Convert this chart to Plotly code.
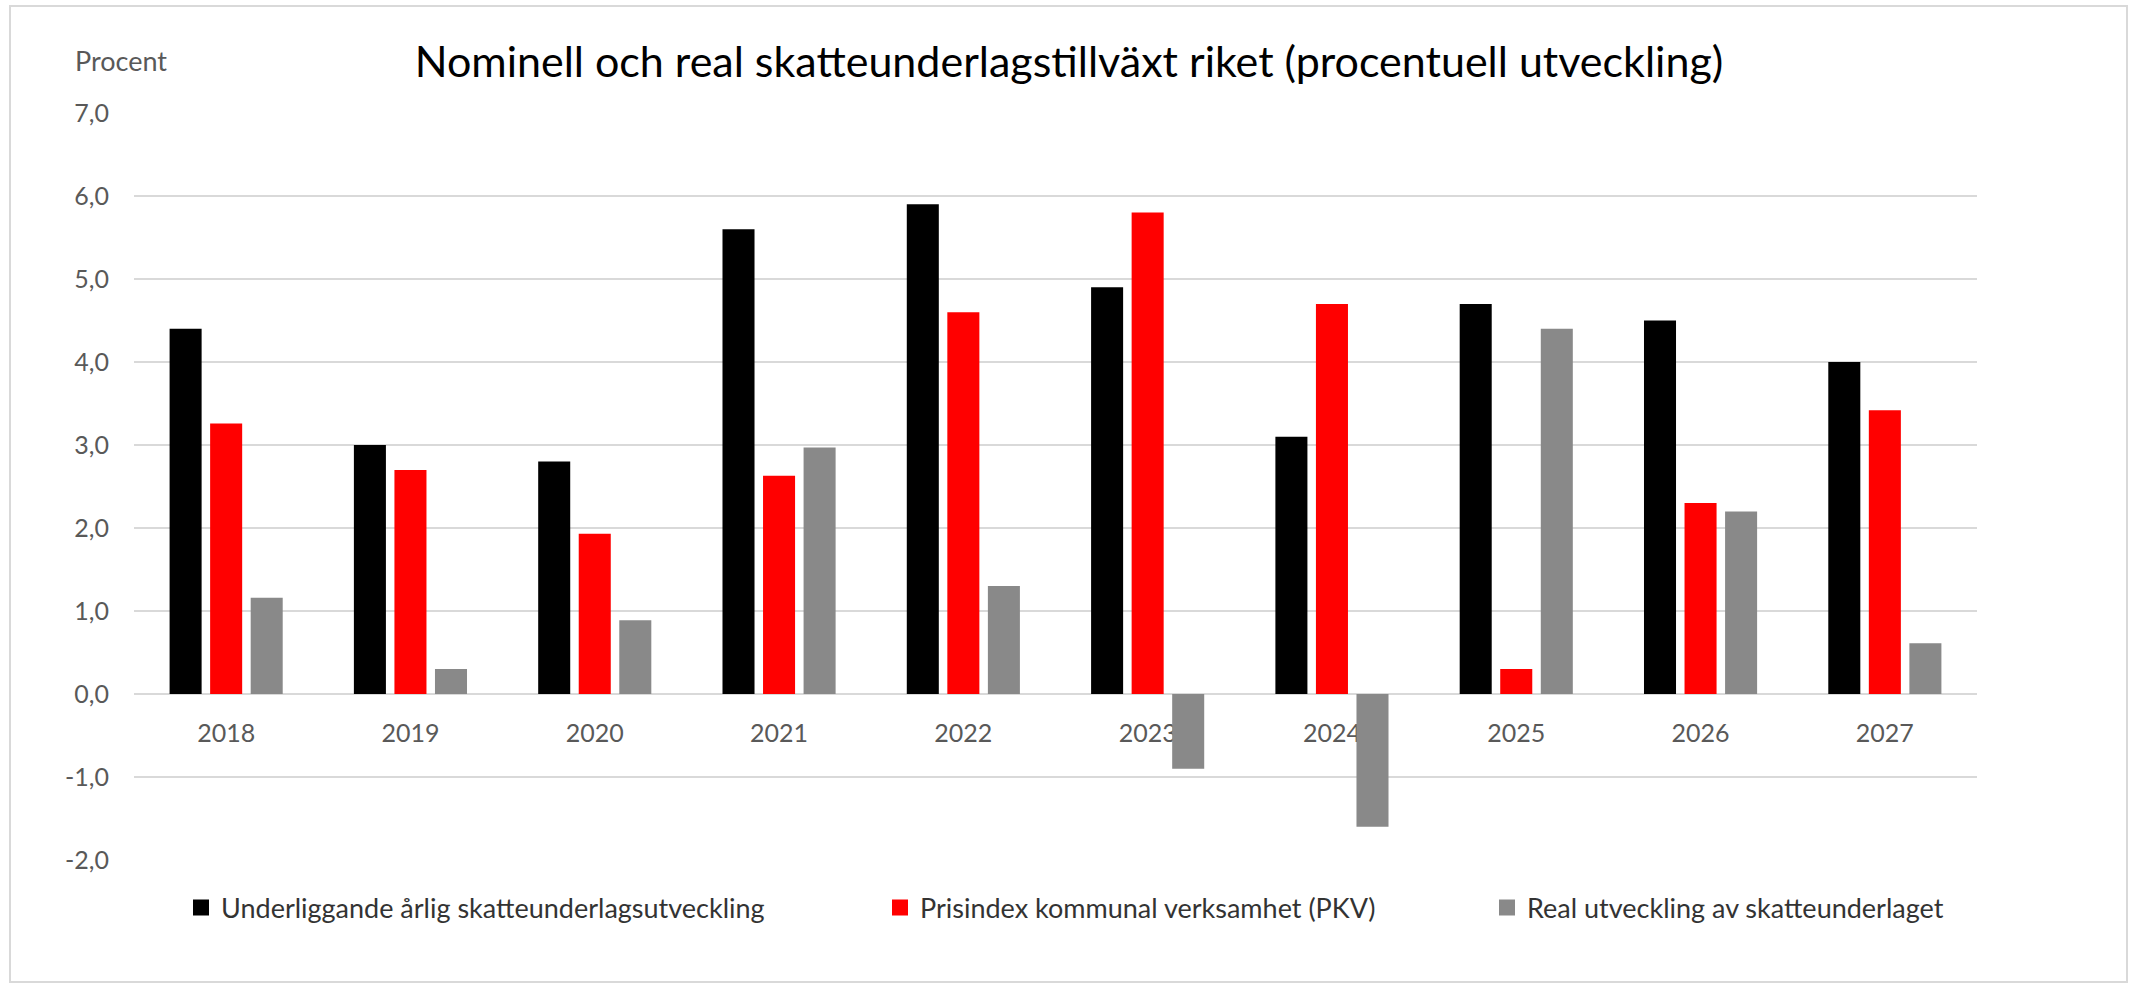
import plotly.graph_objects as go

# ---------------- data ----------------
years = ["2018", "2019", "2020", "2021", "2022", "2023", "2024", "2025", "2026", "2027"]
underliggande = [4.4, 3.0, 2.8, 5.6, 5.9, 4.9, 3.1, 4.7, 4.5, 4.0]
pkv = [3.26, 2.7, 1.93, 2.63, 4.6, 5.8, 4.7, 0.3, 2.3, 3.42]
real = [1.16, 0.3, 0.89, 2.97, 1.3, -0.9, -1.6, 4.4, 2.2, 0.61]

series_names = [
    "Underliggande årlig skatteunderlagsutveckling",
    "Prisindex kommunal verksamhet (PKV)",
    "Real utveckling av skatteunderlaget",
]
y_tickvals = [-2, -1, 0, 1, 2, 3, 4, 5, 6, 7]
y_ticktext = ["-2,0", "-1,0", "0,0", "1,0", "2,0", "3,0", "4,0", "5,0", "6,0", "7,0"]

title_text = "Nominell och real skatteunderlagstillväxt riket (procentuell utveckling)"
y_unit = "Procent"

# ---------------- layout geometry ----------------
W, H = 2130, 984
L, R, T, B = 134, 153, 113, 124
PW, PH = W - L - R, H - T - B
Y_MIN, Y_MAX = -2, 7

def px_x(px):
    return (px - L) / PW

def px_y(py):
    return (H - B - py) / PH

FONT = "Lato, 'Open Sans', sans-serif"
colors = ["#000000", "#ff0000", "#898989"]
legend_ids = ["legend", "legend2", "legend3"]
legend_left_px = [181, 880, 1487]

fig = go.Figure()
for vals, name, col in zip([underliggande, pkv, real], series_names, colors):
    fig.add_trace(go.Bar(x=years, y=vals, name=name, marker=dict(color=col, line=dict(width=0)),
                         showlegend=False))

# legend-only entries with larger square swatches
for name, col, lid in zip(series_names, colors, legend_ids):
    fig.add_trace(go.Scatter(x=[None], y=[None], mode="markers", name=name,
                             marker=dict(symbol="square", size=16, color=col),
                             legend=lid, showlegend=True))

zero_frac = (0 - Y_MIN) / (Y_MAX - Y_MIN)

legend_common = dict(orientation="h", xref="container", yref="container",
                     xanchor="left", yanchor="middle", y=1 - 908 / H,
                     font=dict(family=FONT, size=27, color="#333333"),
                     bgcolor="rgba(0,0,0,0)", itemsizing="trace")

fig.update_layout(
    width=W, height=H,
    margin=dict(l=L, r=R, t=T, b=B, pad=0, autoexpand=False),
    paper_bgcolor="white", plot_bgcolor="white",
    barmode="group", bargap=0.34, bargroupgap=0.21,
    separators=", ",
    font=dict(family=FONT),
    title=dict(text=title_text, x=1069 / W, xanchor="center", xref="container",
               y=1 - 62 / H, yanchor="middle", yref="container",
               font=dict(family=FONT, size=43, color="#000000")),
    xaxis=dict(type="category", anchor="free", position=zero_frac,
               showgrid=False, zeroline=False, showline=False, ticks="",
               tickfont=dict(family=FONT, size=25, color="#595959"),
               layer="below traces", ticklabelstandoff=22),
    yaxis=dict(range=[Y_MIN, Y_MAX], tickvals=y_tickvals, ticktext=y_ticktext,
               showgrid=True, gridcolor="#d9d9d9", gridwidth=2,
               zeroline=False, showline=False, ticks="",
               tickfont=dict(family=FONT, size=25, color="#595959"),
               ticklabelstandoff=24),
    legend=dict(x=legend_left_px[0] / W, **legend_common),
    legend2=dict(x=legend_left_px[1] / W, **legend_common),
    legend3=dict(x=legend_left_px[2] / W, **legend_common),
    annotations=[dict(text=y_unit, xref="paper", yref="paper", x=px_x(73), y=px_y(60),
                      xanchor="left", yanchor="middle", showarrow=False,
                      font=dict(family=FONT, size=27, color="#595959"))],
    shapes=[dict(type="rect", xref="paper", yref="paper",
                 x0=px_x(10), x1=px_x(2127), y0=px_y(982), y1=px_y(6),
                 line=dict(color="#d9d9d9", width=2), layer="below")],
)

fig.write_html("out.html")
